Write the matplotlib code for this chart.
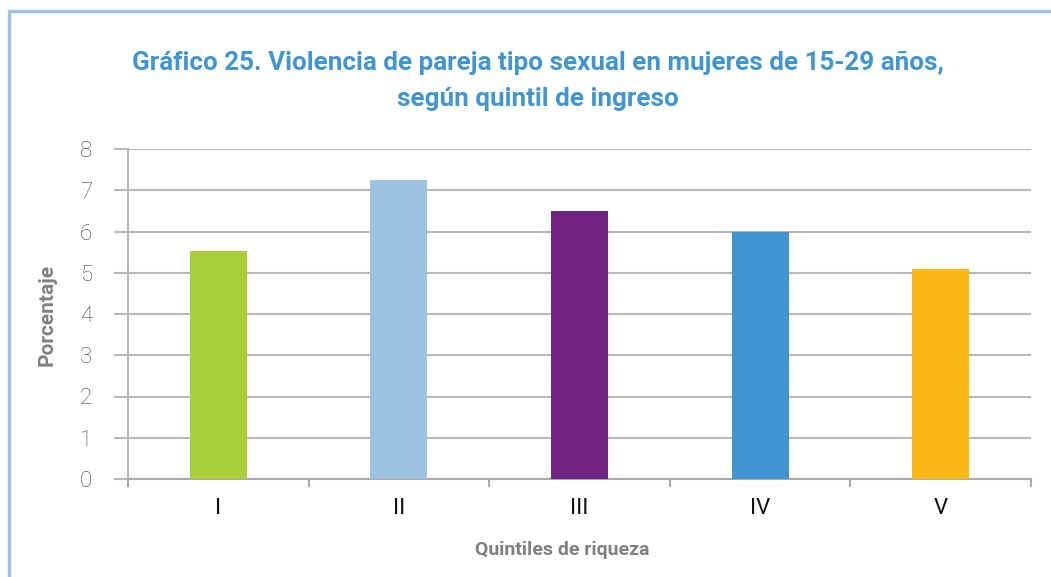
import matplotlib.pyplot as plt
from matplotlib.patches import Rectangle

# datos
quintiles = ['I', 'II', 'III', 'IV', 'V']
porcentajes = [5.53, 7.25, 6.5, 6.0, 5.09]
colores = ['#A8CE3A', '#9DC3E3', '#6F2282', '#4194D0', '#FBB817']

titulo = 'Gráfico 25. Violencia de pareja tipo sexual en mujeres de 15-29 años,\nsegún quintil de ingreso'
fuente = ['Roboto', 'DejaVu Sans']

fig = plt.figure(figsize=(10.51, 5.77), dpi=100)
ax = fig.add_axes([128 / 1051, 1 - 479 / 577, 903 / 1051, 330 / 577])

# marco azul claro
fig.patches.append(Rectangle((9 / 1051, -0.1), 1.2, 1 - 11 / 577 + 0.1,
                             transform=fig.transFigure, fill=False,
                             edgecolor='#9DC3E6', linewidth=2.5))

x = range(len(quintiles))
ax.bar(x, porcentajes, width=0.316, color=colores, zorder=3)

ax.set_xlim(-0.5, 4.5)
ax.set_ylim(0, 8)
ax.set_yticks(range(0, 9))
ax.set_xticks([i - 0.5 for i in range(6)], minor=False)
ax.set_xticklabels([])
ax.set_xticks(list(x), minor=True)
ax.set_xticklabels(quintiles, minor=True)
ax.tick_params(axis='x', which='minor', length=0, pad=14, labelsize=16,
               labelcolor='#111111')
ax.tick_params(axis='x', which='major', length=6, color='#aaaaaa', width=1.5)
ax.tick_params(axis='y', length=10, color='#b8b8b8', width=1.5, pad=16,
               labelsize=16, labelcolor='#444444')
for lab in ax.get_xticklabels(minor=True):
    lab.set_family(fuente)
for lab in ax.get_yticklabels():
    lab.set_family(fuente)
    lab.set_fontweight('light')

ax.grid(True, axis='y', color='#b8b8b8', linewidth=1.5, zorder=0)
for s in ['top', 'right']:
    ax.spines[s].set_visible(False)
ax.spines['left'].set_color('#b8b8b8')
ax.spines['left'].set_linewidth(1.5)
ax.spines['bottom'].set_color('#aaaaaa')
ax.spines['bottom'].set_linewidth(1.5)

fig.text(538 / 1051, 1 - 81 / 577, titulo, ha='center', va='center',
         fontsize=18.7, fontweight='bold', color='#4195D1', family=fuente,
         linespacing=1.65)
fig.text(47 / 1051, 1 - 315 / 577, 'Porcentaje', rotation=90, ha='center',
         va='center', fontsize=15, fontweight='bold', color='#808080',
         family=fuente)
fig.text(562 / 1051, 1 - 550 / 577, 'Quintiles de riqueza', ha='center',
         va='center', fontsize=14, fontweight='bold', color='#808080',
         family=fuente)

fig.savefig('out.png', dpi=100)
